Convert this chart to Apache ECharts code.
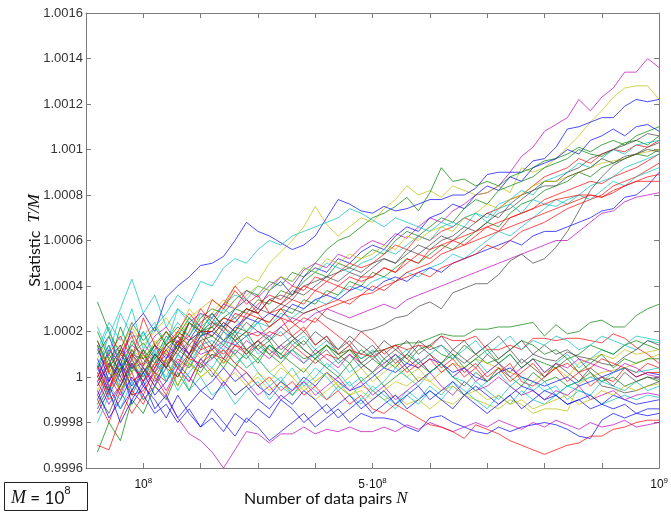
<!DOCTYPE html>
<html>
<head>
<meta charset="utf-8">
<script src="https://cdn.jsdelivr.net/npm/echarts@6/dist/echarts.min.js"></script>
<style>
  html, body { margin: 0; padding: 0; background: #fff; }
  #chart { width: 671px; height: 514px; }
</style>
</head>
<body>
<div id="chart"></div>
<script>
'use strict'

// N in units of 1e7 (data pairs)
const nPairs = [2, 4, 6, 8, 10, 12, 14, 16, 18, 20,
  22, 24, 26, 28, 30, 32, 34, 36, 38, 40,
  42, 44, 46, 48, 50, 52, 54, 56, 58, 60,
  62, 64, 66, 68, 70, 72, 74, 76, 78, 80,
  82, 84, 86, 88, 90, 92, 94, 96, 98, 100]

// T/M - 1, in units of 1e-5, runs that drift upward
const upperRuns = [
  [5, -6, 8, 14, 10, 18, 22, 15, 24, 28, 26, 32, 30, 38, 35, 40, 44, 40, 47, 50, 48, 54, 52, 57, 60, 58, 63, 61, 66, 70, 68, 73, 76, 80, 81, 84, 90, 97, 101, 108, 111, 114, 122, 117, 123, 127, 134, 134, 140, 136],
  [-4, 6, 2, 12, 8, 15, 20, 14, 26, 30, 34, 30, 40, 44, 42, 50, 55, 60, 66, 75, 67, 62, 66, 70, 68, 74, 78, 84, 80, 82, 79, 84, 82, 80, 81, 84, 81, 92, 90, 92, 96, 101, 106, 112, 117, 123, 127, 128, 128, 122],
  [10, 18, 5, 22, 28, 20, 35, 40, 44, 49, 50, 53, 60, 68, 64, 62, 59, 56, 58, 62, 70, 78, 76, 73, 72, 75, 73, 74, 76, 78, 78, 80, 80, 83, 89, 90, 90, 90, 95, 96, 101, 109, 110, 112, 114, 114, 119, 122, 121, 122],
  [20, 8, 14, 2, 12, 6, 16, 22, 18, 26, 30, 28, 34, 38, 36, 42, 40, 46, 44, 50, 56, 60, 62, 66, 70, 72, 75, 79, 73, 81, 92, 86, 87, 84, 86, 84, 88, 90, 92, 95, 96, 98, 101, 99, 102, 104, 102, 106, 108, 110],
  [0, 12, 6, -4, 5, 14, 8, 20, 16, 24, 28, 22, 30, 34, 30, 38, 42, 36, 44, 48, 46, 52, 50, 55, 58, 56, 62, 66, 64, 70, 72, 76, 74, 80, 84, 82, 88, 86, 92, 94, 96, 100, 98, 104, 106, 109, 106, 110, 111, 108],
  [14, 4, 22, 10, 15, 8, 18, 12, 24, 20, 22, 26, 30, 28, 34, 32, 38, 36, 42, 46, 44, 50, 48, 52, 56, 54, 60, 64, 62, 66, 70, 68, 74, 78, 76, 82, 84, 86, 88, 92, 94, 96, 100, 98, 97, 100, 103, 104, 102, 106],
  [-8, 4, 12, -2, 2, 10, 6, 14, 18, 12, 24, 20, 28, 26, 32, 36, 34, 40, 38, 44, 42, 46, 50, 48, 50, 54, 58, 56, 62, 60, 64, 66, 70, 68, 72, 74, 78, 80, 84, 88, 90, 92, 96, 94, 98, 100, 99, 102, 101, 104],
  [22, 10, 28, 18, 18, 24, 14, 30, 26, 22, 26, 32, 36, 34, 40, 38, 44, 42, 48, 46, 50, 48, 46, 50, 52, 56, 54, 58, 62, 60, 66, 68, 66, 72, 70, 76, 78, 82, 80, 86, 88, 90, 94, 92, 96, 100, 98, 102, 103, 104],
  [6, -2, 12, 4, 6, 14, 10, 4, 16, 20, 20, 26, 24, 30, 28, 34, 32, 38, 36, 40, 44, 42, 46, 44, 48, 52, 50, 56, 54, 58, 62, 60, 64, 68, 72, 70, 76, 80, 82, 86, 86, 90, 92, 96, 98, 100, 102, 104, 107, 106],
  [-2, 8, -6, 4, 0, 10, 4, 12, 8, 16, 18, 14, 22, 20, 26, 24, 30, 28, 34, 32, 38, 36, 42, 40, 46, 44, 48, 52, 50, 54, 58, 56, 60, 64, 68, 66, 72, 76, 78, 82, 84, 86, 90, 88, 92, 94, 96, 98, 97, 100],
  [16, 2, 10, 20, 10, 4, 14, 18, 10, 22, 18, 24, 20, 28, 26, 24, 30, 34, 32, 38, 36, 40, 38, 44, 44, 48, 46, 50, 54, 52, 56, 60, 58, 62, 66, 64, 70, 72, 74, 78, 80, 82, 84, 86, 85, 88, 90, 92, 95, 98],
  [8, 18, 12, 22, 14, 20, 26, 18, 30, 24, 28, 34, 30, 36, 40, 38, 44, 42, 48, 46, 52, 50, 54, 52, 54, 58, 56, 62, 60, 64, 66, 64, 70, 72, 76, 74, 78, 80, 84, 86, 86, 88, 90, 92, 94, 95, 96, 98, 99, 100],
  [-10, 2, -4, 8, -4, 6, 0, 10, 6, 14, 16, 12, 20, 18, 24, 22, 28, 26, 30, 34, 32, 36, 40, 38, 42, 44, 42, 46, 44, 48, 50, 54, 52, 56, 60, 64, 62, 66, 70, 74, 78, 76, 80, 84, 86, 88, 92, 94, 96, 98],
  [4, 14, 0, 10, 8, 2, 12, 18, 14, 20, 24, 22, 26, 30, 28, 34, 36, 34, 40, 42, 44, 46, 48, 46, 50, 52, 50, 54, 58, 56, 60, 62, 66, 64, 68, 72, 74, 78, 82, 84, 84, 88, 90, 92, 96, 94, 97, 98, 100, 99],
  [4, -8, 2, 12, 4, -4, 8, 14, 10, 18, 20, 16, 22, 26, 24, 28, 26, 32, 30, 34, 36, 34, 38, 40, 38, 42, 44, 42, 46, 48, 46, 50, 52, 54, 56, 58, 60, 58, 62, 64, 64, 66, 68, 70, 73, 74, 79, 80, 84, 90],
  [-14, -4, 4, -8, -6, 2, -2, 8, 4, 12, 14, 10, 16, 20, 18, 22, 26, 24, 28, 30, 32, 34, 32, 36, 40, 38, 42, 44, 46, 44, 48, 50, 52, 54, 58, 56, 60, 64, 66, 68, 71, 74, 76, 78, 80, 84, 86, 88, 91, 94],
  [12, 24, 16, 30, 12, 22, 28, 36, 32, 42, 40, 48, 52, 50, 56, 60, 58, 62, 64, 66, 68, 70, 74, 72, 69, 66, 70, 68, 66, 64, 68, 66, 70, 72, 68, 74, 76, 72, 78, 76, 75, 78, 80, 78, 82, 86, 84, 88, 90, 92],
  [5, -6, 10, 18, 5, 12, 20, 14, 24, 20, 20, 26, 24, 30, 28, 34, 32, 36, 40, 38, 42, 40, 44, 42, 44, 48, 46, 52, 50, 56, 58, 60, 62, 64, 66, 68, 70, 72, 74, 76, 78, 79, 80, 80, 79, 81, 84, 86, 86, 86],
  [-2, -12, -4, 6, -2, 4, 10, 6, 14, 10, 12, 16, 14, 18, 20, 18, 22, 26, 24, 28, 30, 28, 26, 28, 30, 32, 30, 34, 36, 38, 40, 42, 44, 46, 48, 50, 52, 54, 56, 58, 60, 60, 64, 68, 72, 73, 77, 79, 80, 81],
  [-10, -20, -6, 2, -10, -4, 4, 0, 8, 6, 10, 8, 14, 12, 16, 20, 18, 22, 26, 24, 30, 32, 34, 36, 37, 40, 42, 46, 48, 50, 54, 56, 58, 60, 62, 64, 66, 68, 70, 72, 74, 76, 78, 80, 79, 82, 84, 86, 88, 89],
  [0, -6, 4, 10, 2, 8, 14, 10, 16, 20, 18, 24, 20, 26, 30, 28, 32, 30, 28, 30, 26, 24, 22, 20, 21, 23, 26, 27, 31, 33, 30, 37, 39, 41, 41, 45, 51, 54, 50, 52, 57, 64, 73, 82, 88, 93, 96, 98, 101, 103]
]
const upperColors = ['m', 'y', 'b', 'g', 'b', 'g', 'r', 'c', 'k', 'g', 'r', 'y', 'c', 'k', 'b', 'r', 'c', 'r', 'm', 'r', 'k']

// T/M - 1, in units of 1e-5, runs that stay near 1
const lowerRuns = [
  [33, 20, 10, 4, 12, 0, 8, -4, 6, 2, 10, 4, 12, 8, 14, 10, 6, 12, 8, 10, 14, 10, 12, 8, 11, 12, 14, 15, 15, 17, 19, 18, 18, 21, 21, 22, 22, 23, 24, 18, 23, 19, 20, 24, 25, 22, 22, 27, 30, 32],
  [6, 14, -4, 8, 20, 10, 16, 24, 18, 28, 22, 30, 26, 20, 24, 16, 20, 14, 18, 12, 16, 10, 14, 8, 12, 6, 10, 4, 8, 2, 6, 0, 4, 8, 2, 6, 10, 4, 8, 2, 6, 10, 4, 8, 12, 10, 14, 12, 16, 15],
  [-33, -20, -28, -10, -16, -4, -10, 2, -6, 6, 0, 8, 4, 12, 6, 14, 10, 16, 12, 8, 14, 10, 6, 12, 8, 4, 10, 6, 12, 14, 10, 8, 14, 10, 6, 8, 12, 16, 14, 10, 12, 8, 10, 14, 12, 10, 14, 16, 14, 12],
  [-30, -32, -18, -6, -12, 0, -8, 4, -2, 8, 12, 6, 14, 10, 16, 12, 8, 14, 10, 6, 10, 8, 12, 10, 9, 12, 14, 12, 14, 13, 18, 16, 16, 18, 12, 12, 14, 12, 17, 17, 16, 17, 17, 16, 15, 19, 17, 13, 10, 6],
  [2, -8, 6, 12, 4, 16, 10, 20, 14, 8, 12, 6, 10, 4, 8, 2, 6, 0, 4, -2, 2, -4, 0, 4, -2, 2, 6, 0, 4, -2, 2, 6, 4, 8, 6, 4, 2, 0, -2, 2, 4, 0, 6, 8, 10, 8, 12, 10, 11, 12],
  [-6, 4, -2, 10, 0, 6, 12, 4, 8, 0, 4, -2, 2, -4, 0, -6, -2, -8, -4, -10, -6, -2, -8, -4, -6, -10, -8, -12, -10, -14, -10, -12, -8, -10, -12, -14, -10, -12, -16, -14, -14, -15, -3, 0, 2, 3, 4, 6, 8, 10],
  [-4, 6, 0, -8, 2, 10, 4, 14, 8, 18, 12, 20, 16, 10, 14, 18, 12, 16, 20, 14, 18, 12, 16, 10, 14, 8, 12, 16, 10, 14, 18, 12, 16, 10, 14, 8, 12, 6, 10, 8, 7, 11, 9, 8, 6, 5, 9, 12, 16, 14],
  [-12, -2, 8, -6, 4, -2, 6, 0, 10, 4, 14, 8, 18, 12, 16, 10, 14, 18, 12, 8, 12, 6, 10, 4, 8, 12, 6, 10, 16, 12, 14, 10, 6, 10, 14, 18, 12, 16, 10, 14, 10, 12, 8, 2, -4, -5, -7, -6, -4, -2],
  [8, -4, -14, -6, 2, -8, -2, 6, 0, -6, -2, 4, -2, 2, -4, -8, -2, -6, 0, -4, 2, -2, -6, -4, 0, 4, 2, 6, 4, 8, 6, 2, 4, 0, -2, 2, 4, 0, -2, -4, -2, 0, -4, -2, 0, 2, 4, 0, 2, 1],
  [-2, 6, 14, 4, 10, 2, 8, 16, 10, 4, 8, 14, 10, 16, 12, 8, 14, 10, 6, 12, 8, 4, 10, 6, 2, 6, 10, 4, 8, 2, 6, 0, 4, -2, 2, 6, 0, 4, 8, 2, 6, 4, 8, 6, 4, 2, 6, 4, 1, 0],
  [12, 2, -6, -16, -8, 4, 14, 20, 28, 22, 34, 30, 38, 32, 36, 28, 30, 24, 20, 26, 22, 18, 14, 20, 16, 10, 14, 8, 4, 8, 2, 6, 0, 4, -2, 2, 6, -2, -4, 0, 4, 6, 2, 4, 8, 6, 4, 2, 6, 4],
  [4, 10, 2, 16, 8, 14, 20, 12, 24, 18, 22, 16, 20, 12, 8, 14, 10, 6, 2, 8, 4, 0, 6, -2, 2, -4, 0, 4, -2, 2, 6, 0, -4, 2, -2, 4, 0, -4, 2, -2, 0, -4, -2, 2, -2, 0, -4, -2, 0, -2],
  [-20, -8, -14, -2, -10, -4, 4, -6, 2, 8, 4, 12, 6, 10, 2, -4, 0, -8, -2, -6, -10, -4, -8, -12, -6, -10, -14, -8, -12, -6, -10, -4, -8, -2, -6, -10, -4, -8, -2, -6, -4, -10, -6, -8, -12, -10, -8, -10, -8, -9],
  [-6, -18, -10, 0, -8, -16, -12, -20, -14, -22, -18, -24, -16, -20, -14, -18, -10, -14, -20, -16, -12, -18, -14, -10, -16, -12, -8, -14, -10, -6, -10, -14, -8, -12, -16, -12, -8, -14, -10, -6, -8, -12, -10, -14, -12, -8, -10, -12, -11, -10],
  [14, -2, 6, -12, -4, -10, -18, -8, -16, -22, -14, -20, -26, -18, -22, -28, -24, -20, -16, -22, -18, -14, -20, -16, -18, -18, -19, -22, -24, -18, -17, -20, -22, -24, -25, -22, -24, -22, -21, -20, -21, -23, -26, -27, -19, -16, -18, -16, -17, -16],
  [-4, 6, -2, 10, 4, -4, -9, -18, -25, -28, -33, -40, -32, -24, -25, -29, -25, -25, -22, -25, -23, -24, -22, -24, -24, -22, -24, -21, -23, -20, -22, -24, -22, -20, -22, -19, -21, -23, -20, -22, -19, -21, -23, -20, -22, -21, -19, -22, -21, -20],
  [2, -10, -4, 8, -2, 6, 12, 4, 10, 16, 8, 12, 6, 2, -4, 0, -6, -2, -8, -4, -10, -6, -12, -8, -14, -16, -12, -15, -18, -21, -22, -24, -27, -21, -23, -25, -28, -30, -32, -34, -32, -30, -29, -26, -26, -23, -22, -20, -19, -19],
  [10, 22, 4, 14, 20, 8, -2, 6, -6, 0, -8, -4, -12, -6, -2, -10, -4, -8, -2, 4, 0, -6, -2, -10, -4, -8, -12, -6, -10, -4, -8, -2, -6, -10, -14, -8, -12, -6, -10, -12, -8, -4, -6, -8, -2, -4, -6, -2, -6, -4],
  [-10, 0, -8, 6, -4, 2, -6, 4, -2, 8, 2, -4, 4, -2, -8, -4, -10, -6, -2, -8, -4, 0, -6, -2, -8, -4, -10, -6, -2, 2, -4, -8, -2, -6, -4, 0, -4, -8, -6, -10, -6, -8, -4, -10, -8, -6, -10, -8, -7, -8],
  [0, 10, 18, 8, 26, 14, 4, 12, 20, 30, 24, 32, 40, 34, 28, 22, 26, 18, 22, 14, 18, 10, 14, 6, 10, 4, 8, 2, 6, 10, 4, 8, 2, 6, 0, 4, -2, 2, 6, 0, 4, -2, 2, -4, 0, -2, 4, 0, 2, 2],
  [16, 4, 12, 24, 16, 22, 14, 18, 26, 20, 28, 22, 16, 20, 12, 16, 8, 12, 16, 10, 14, 8, 12, 6, 2, 8, 4, 10, 6, 2, 6, 10, 4, 8, 12, 6, 10, 4, 8, 6, 4, 8, 2, 6, 10, 4, 8, 6, 8, 8],
  [-14, -4, -10, 6, 0, 12, -2, 10, 4, 14, 8, 16, 10, 4, 8, 2, -2, 4, -4, 0, 6, 2, -4, 0, -6, -2, 4, 0, -4, 2, 6, 0, -2, -6, -2, 2, -4, 0, -6, -2, -8, -4, -2, 0, -2, 2, 4, 2, 3, 4],
  [14, 4, -6, 2, 10, 0, 8, -4, 6, 0, 4, -2, -8, -4, 2, -2, 4, 0, -6, -2, 2, -4, -8, -6, -10, -6, -2, -4, 0, -2, -6, -4, -8, -6, -10, -8, -12, -10, -14, -12, -10, -8, -12, -10, -6, -8, -4, -6, -4, -3],
  [-16, -6, -20, -10, -2, -14, -8, -18, -12, -6, -10, -2, -8, -4, -10, -14, -8, -12, -6, -10, -16, -12, -8, -14, -10, -6, -12, -8, -4, -10, -6, -2, -8, -4, -8, -12, -8, -4, -6, -10, -8, -12, -10, -8, -12, -14, -12, -16, -14, -14],
  [4, 18, 30, 43, 28, 36, 22, 30, 24, 18, 26, 20, 14, 18, 10, 14, 8, 12, 6, 10, 4, 8, 2, 6, 10, 4, 8, 12, 6, 10, 14, 8, 12, 16, 10, 14, 18, 12, 16, 14, 18, 16, 12, 14, 18, 16, 14, 18, 17, 16],
  [-8, -16, -4, 6, -2, 10, 4, 16, 10, 20, 14, 22, 18, 24, 20, 16, 22, 18, 14, 20, 16, 12, 18, 14, 10, 16, 12, 8, 14, 10, 6, 12, 8, 4, 10, 6, 2, 8, 4, 0, 6, 2, -2, 4, 0, -4, 2, -2, 0, -1]
]
const lowerColors = ['g', 'c', 'g', 'r', 'y', 'y', 'k', 'k', 'b', 'm', 'r', 'g', 'c', 'b', 'b', 'm', 'r', 'c', 'm', 'r', 'g', 'c', 'y', 'b', 'c', 'k']

// classic matlab line colours
const palette = {
  b: '#0000ff', g: '#008000', r: '#ff0000', c: '#00bfbf',
  m: '#bf00bf', y: '#bfbf00', k: '#404040'
}

const yTickFmt = v => String(+(1 + v / 1e5).toFixed(4))
const xTickFmt = v => {
  if (v === 10) return '{n|10}{s|8}'
  if (v === 50) return '{n|5·10}{s|8}'
  if (v === 100) return '{n|10}{s|9}'
  return ''
}
const supRich = {
  n: {fontFamily: 'Liberation Sans', fontSize: 12, color: '#111', lineHeight: 14, verticalAlign: 'bottom'},
  s: {fontFamily: 'Liberation Sans', fontSize: 8, color: '#111', lineHeight: 14, verticalAlign: 'top'}
}

const toSeries = (runs, colors) => runs.map((run, i) => ({
  type: 'line',
  data: run.map((v, j) => [nPairs[j], v]),
  showSymbol: false,
  symbol: 'none',
  silent: true,
  lineStyle: {width: 1, color: palette[colors[i]], opacity: 0.7},
  emphasis: {disabled: true}
}))

const axisGray = '#7a7a7a'
const xBase = {
  type: 'value', min: 0, max: 100, interval: 10,
  axisLine: {show: true, onZero: false, lineStyle: {color: axisGray}},
  axisTick: {show: true, inside: true, length: 5, lineStyle: {color: axisGray}},
  splitLine: {show: false}
}
const yBase = {
  type: 'value', min: -40, max: 160, interval: 20,
  axisLine: {show: true, onZero: false, lineStyle: {color: axisGray}},
  axisTick: {show: true, inside: true, length: 5, lineStyle: {color: axisGray}},
  splitLine: {show: false}
}

const chart = echarts.init(document.getElementById('chart'), null, {renderer: 'canvas'})
chart.setOption({
  animation: false,
  backgroundColor: '#fff',
  grid: {left: 86, right: 9, top: 13, bottom: 46},
  xAxis: [
    {...xBase, position: 'bottom',
      axisLabel: {formatter: xTickFmt, rich: supRich, margin: 9, showMinLabel: false}},
    {...xBase, position: 'top', axisLabel: {show: false}}
  ],
  yAxis: [
    {...yBase, position: 'left',
      axisLabel: {formatter: yTickFmt, fontFamily: 'Liberation Sans', fontSize: 13, color: '#333', margin: 3},
      name: '{a|Statistic  }{b|T/M}',
      nameLocation: 'middle',
      nameGap: 43,
      nameMoveOverlap: false,
      nameTextStyle: {
        rich: {
          a: {fontFamily: 'Lato', fontSize: 16, color: '#111'},
          b: {fontFamily: 'Liberation Serif', fontStyle: 'italic', fontSize: 17, color: '#111'}
        }
      }},
    {...yBase, position: 'right', axisLabel: {show: false}}
  ],
  series: [...toSeries(upperRuns, upperColors), ...toSeries(lowerRuns, lowerColors)],
  graphic: [
    {
      type: 'text', left: 244, top: 490,
      style: {
        text: '{a|Number of data pairs }{b|N}',
        rich: {
          a: {fontFamily: 'Lato', fontSize: 16, fill: '#111'},
          b: {fontFamily: 'Liberation Serif', fontStyle: 'italic', fontSize: 17, fill: '#111'}
        }
      }
    },
    {
      type: 'rect', left: 4, top: 482,
      shape: {width: 83, height: 28},
      style: {fill: '#fff', stroke: '#222', lineWidth: 1}
    },
    {
      type: 'text', left: 11, top: 485,
      style: {
        text: '{m|M}{e| = 10}{p|8}',
        rich: {
          m: {fontFamily: 'Liberation Serif', fontStyle: 'italic', fontSize: 18, fill: '#111', lineHeight: 22, verticalAlign: 'bottom'},
          e: {fontFamily: 'Lato', fontSize: 17, fill: '#111', lineHeight: 22, verticalAlign: 'bottom'},
          p: {fontFamily: 'Lato', fontSize: 11, fill: '#111', lineHeight: 22, verticalAlign: 'top'}
        }
      }
    }
  ]
})
</script>
</body>
</html>
